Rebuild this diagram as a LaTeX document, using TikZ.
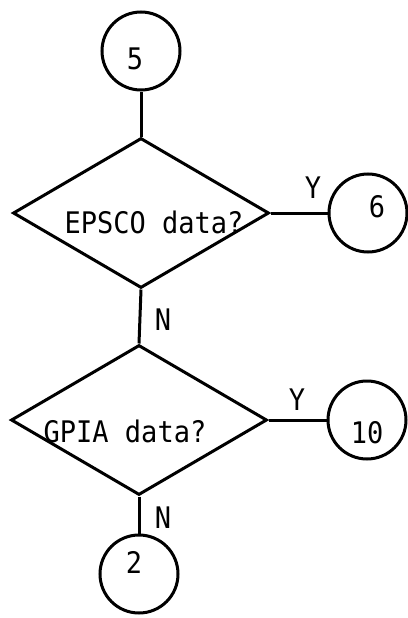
\documentclass[tikz,border=0pt]{standalone}
\usepackage{fontspec}
\usepackage{graphicx}
\setmonofont{DejaVu Sans Mono}
\usetikzlibrary{shapes.geometric}
\newcommand{\tallmono}[1]{\scalebox{1}[1.1]{#1}}
\begin{document}
\begin{tikzpicture}[x=1pt,y=-1pt,
  conn/.style={draw,circle,minimum size=78pt,inner sep=0pt,line width=3pt},
  decision/.style={draw,diamond,minimum width=256pt,minimum height=150pt,inner sep=0pt,line width=3pt},
  lbl/.style={anchor=base,inner sep=0pt,font=\fontsize{27}{30}\selectfont\ttfamily},
  edge/.style={draw,line width=3pt}]
  \useasboundingbox (0,0) rectangle (407,618);

  % connectors (circles) and decisions (diamonds)
  \node[conn] (c5) at (141,51) {};
  \node[decision] (d1) at (141,213) {};
  \node[conn] (c6) at (368,213) {};
  \node[decision] (d2) at (139,420) {};
  \node[conn] (c10) at (367,420) {};
  \node[conn] (c2) at (139,574) {};

  % texts
  \node[lbl] (t5) at (135,70) {\tallmono{5}};
  \node[lbl] (t6) at (377,217) {\tallmono{6}};
  \node[lbl] (t10) at (367,443) {\tallmono{10}};
  \node[lbl] (t2) at (134,573) {\tallmono{2}};
  \node[lbl] (q1) at (154,233) {\tallmono{EPSCO data?}};
  \node[lbl] (q2) at (125,442) {\tallmono{GPIA data?}};
  \node[lbl] (y1) at (313,198) {\tallmono{Y}};
  \node[lbl] (y2) at (297,410) {\tallmono{Y}};
  \node[lbl] (n1) at (163,330) {\tallmono{N}};
  \node[lbl] (n2) at (163,528) {\tallmono{N}};

  % flow lines
  \draw[edge] (c5.south) -- (d1.north);
  \draw[edge] (d1.east) -- (c6.west);
  \draw[edge] (d1.south) -- (d2.north);
  \draw[edge] (d2.east) -- (c10.west);
  \draw[edge] (d2.south) -- (c2.north);
\end{tikzpicture}
\end{document}
